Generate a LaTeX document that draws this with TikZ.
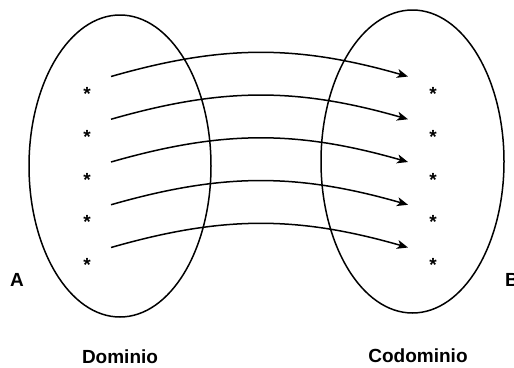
\documentclass[tikz,border=0pt]{standalone}
\usepackage{fontspec}
\setmainfont{Liberation Sans}
\usetikzlibrary{matrix,positioning,arrows.meta,shapes.geometric}

\begin{document}
\begin{tikzpicture}[x=1pt,y=-1pt]
\tikzset{set/.style={ellipse,draw,line width=1.5pt,inner sep=0pt}}
\tikzset{elem/.style={font=\fontsize{19}{19}\selectfont\bfseries,minimum height=42.75pt,inner sep=0pt,text height=21pt,text depth=0pt}}
\tikzset{lbl/.style={font=\fontsize{19}{19}\selectfont\bfseries,inner sep=0pt}}
\tikzset{map/.style={-{Stealth[length=11pt,width=9pt,inset=3pt]},line width=1.5pt}}
\useasboundingbox (0,0) rectangle (514,367);
% the two sets
\node[set,minimum width=182pt,minimum height=302pt] (dom) at (120,166) {};
\node[set,minimum width=183pt,minimum height=303pt] (cod) at (412.5,161.5) {};

% elements of A and B
\matrix (lset) [matrix of nodes, nodes={elem}, row sep=0pt] at (87,175.5) {
* \\ * \\ * \\ * \\ * \\
};
\matrix (rset) [matrix of nodes, nodes={elem}, row sep=0pt] at (433,175.5) {
* \\ * \\ * \\ * \\ * \\
};

% arrow ends
\coordinate (s1) at ([xshift=24pt,yshift=13.5pt]lset-1-1.center);
\coordinate (s2) at ([xshift=24pt,yshift=13.5pt]lset-2-1.center);
\coordinate (s3) at ([xshift=24pt,yshift=13.5pt]lset-3-1.center);
\coordinate (s4) at ([xshift=24pt,yshift=13.5pt]lset-4-1.center);
\coordinate (s5) at ([xshift=24pt,yshift=13.5pt]lset-5-1.center);
\coordinate (t1) at ([xshift=-25pt,yshift=13.5pt]rset-1-1.center);
\coordinate (t2) at ([xshift=-25pt,yshift=13.5pt]rset-2-1.center);
\coordinate (t3) at ([xshift=-25pt,yshift=13.5pt]rset-3-1.center);
\coordinate (t4) at ([xshift=-25pt,yshift=13.5pt]rset-4-1.center);
\coordinate (t5) at ([xshift=-25pt,yshift=13.5pt]rset-5-1.center);

\draw[map] (s1) to[bend left=16] (t1);
\draw[map] (s2) to[bend left=16] (t2);
\draw[map] (s3) to[bend left=16] (t3);
\draw[map] (s4) to[bend left=16] (t4);
\draw[map] (s5) to[bend left=16] (t5);

% labels
\node[lbl] (a) at (17,280) {A};
\node[lbl] (b) at (512,280) {B};
\node[lbl,below=32pt of dom] (domlbl) {Dominio};
\node[lbl,below=35pt of cod,xshift=5.5pt] (codlbl) {Codominio};
\end{tikzpicture}
\end{document}
